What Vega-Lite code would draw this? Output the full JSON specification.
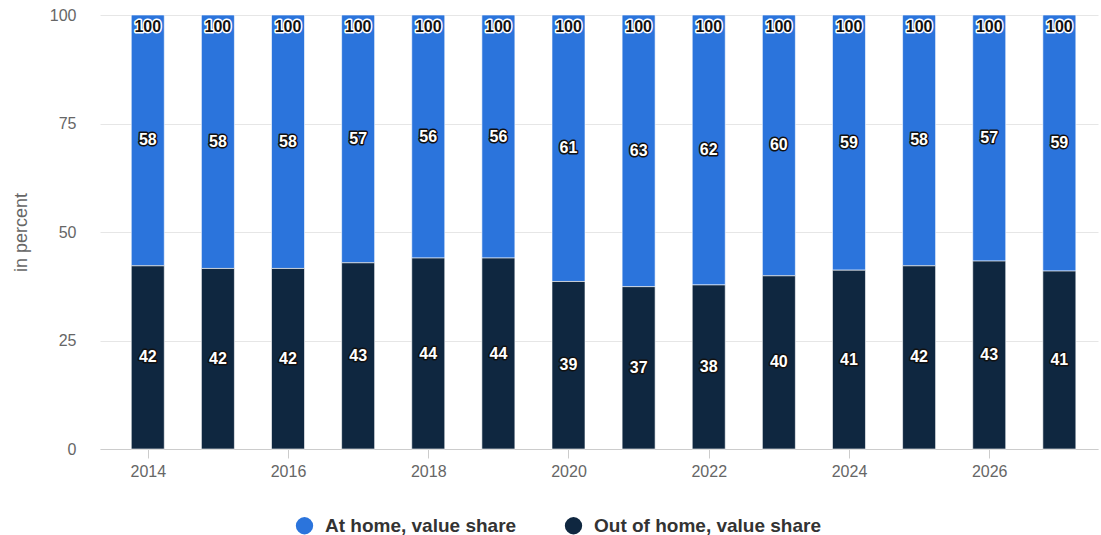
{
  "$schema": "https://vega.github.io/schema/vega-lite/v6.json",
  "width": 998,
  "height": 434,
  "autosize": {"type": "none"},
  "padding": {"left": 100, "top": 15, "right": 3, "bottom": 86},
  "background": "#ffffff",
  "config": {
    "view": {"stroke": null},
    "font": "Liberation Sans"
  },
  "data": {
    "values": [
      {"year": 2014, "category": "At home, value share", "value": 57.8},
      {"year": 2014, "category": "Out of home, value share", "value": 42.2},
      {"year": 2015, "category": "At home, value share", "value": 58.4},
      {"year": 2015, "category": "Out of home, value share", "value": 41.6},
      {"year": 2016, "category": "At home, value share", "value": 58.4},
      {"year": 2016, "category": "Out of home, value share", "value": 41.6},
      {"year": 2017, "category": "At home, value share", "value": 57.1},
      {"year": 2017, "category": "Out of home, value share", "value": 42.9},
      {"year": 2018, "category": "At home, value share", "value": 56.0},
      {"year": 2018, "category": "Out of home, value share", "value": 44.0},
      {"year": 2019, "category": "At home, value share", "value": 56.0},
      {"year": 2019, "category": "Out of home, value share", "value": 44.0},
      {"year": 2020, "category": "At home, value share", "value": 61.4},
      {"year": 2020, "category": "Out of home, value share", "value": 38.6},
      {"year": 2021, "category": "At home, value share", "value": 62.6},
      {"year": 2021, "category": "Out of home, value share", "value": 37.4},
      {"year": 2022, "category": "At home, value share", "value": 62.2},
      {"year": 2022, "category": "Out of home, value share", "value": 37.8},
      {"year": 2023, "category": "At home, value share", "value": 60.1},
      {"year": 2023, "category": "Out of home, value share", "value": 39.9},
      {"year": 2024, "category": "At home, value share", "value": 58.8},
      {"year": 2024, "category": "Out of home, value share", "value": 41.2},
      {"year": 2025, "category": "At home, value share", "value": 57.8},
      {"year": 2025, "category": "Out of home, value share", "value": 42.2},
      {"year": 2026, "category": "At home, value share", "value": 56.7},
      {"year": 2026, "category": "Out of home, value share", "value": 43.3},
      {"year": 2027, "category": "At home, value share", "value": 59.0},
      {"year": 2027, "category": "Out of home, value share", "value": 41.0}
    ]
  },
  "encoding": {
    "x": {
      "field": "year",
      "type": "quantitative",
      "scale": {"domain": [2013.39, 2027.48], "nice": false, "zero": false},
      "axis": {
        "values": [2014, 2016, 2018, 2020, 2022, 2024, 2026],
        "format": "d",
        "title": null,
        "grid": false,
        "domainColor": "#cccccc",
        "tickColor": "#cccccc",
        "tickSize": 9,
        "labelPadding": 5,
        "labelFontSize": 16,
        "labelColor": "#666666"
      }
    }
  },
  "layer": [
    {
      "mark": {"type": "bar", "size": 33, "stroke": "#ffffff", "strokeWidth": 1, "strokeOpacity": 0.6},
      "encoding": {
        "y": {
          "field": "value",
          "type": "quantitative",
          "stack": "zero",
          "scale": {"domain": [0, 100], "nice": false},
          "axis": {
            "values": [0, 25, 50, 75, 100],
            "title": "in percent",
            "titleFontSize": 18,
            "titleFontWeight": "normal",
            "titleColor": "#666666",
            "titlePadding": 19,
            "labelFontSize": 16,
            "labelColor": "#666666",
            "labelPadding": 24,
            "domain": false,
            "ticks": false,
            "gridColor": "#e6e6e6"
          }
        },
        "color": {
          "field": "category",
          "type": "nominal",
          "scale": {
            "domain": ["At home, value share", "Out of home, value share"],
            "range": ["#2b74dc", "#0f2740"]
          },
          "legend": {
            "title": null,
            "orient": "none",
            "direction": "horizontal",
            "legendX": 195,
            "legendY": 501,
            "symbolType": "circle",
            "symbolSize": 300,
            "symbolStrokeWidth": 0,
            "labelFontSize": 19,
            "labelFontWeight": "bold",
            "labelColor": "#333333",
            "labelLimit": 400,
            "columnPadding": 47,
            "labelOffset": 11
          }
        },
        "order": {"field": "category", "sort": "descending"}
      }
    },
    {
      "mark": {"type": "text", "fontSize": 16, "fontWeight": "bold", "fill": "#111111", "stroke": "#111111", "strokeWidth": 3, "strokeJoin": "round", "baseline": "middle"},
      "encoding": {
        "y": {"field": "value", "type": "quantitative", "stack": "zero", "bandPosition": 0.5},
        "detail": {"field": "category"},
        "order": {"field": "category", "sort": "descending"},
        "text": {"field": "value", "type": "quantitative", "format": ".0f"}
      }
    },
    {
      "mark": {"type": "text", "fontSize": 16, "fontWeight": "bold", "fill": "#ffffff", "baseline": "middle"},
      "encoding": {
        "y": {"field": "value", "type": "quantitative", "stack": "zero", "bandPosition": 0.5},
        "detail": {"field": "category"},
        "order": {"field": "category", "sort": "descending"},
        "text": {"field": "value", "type": "quantitative", "format": ".0f"}
      }
    },
    {
      "transform": [{"aggregate": [{"op": "sum", "field": "value", "as": "total"}], "groupby": ["year"]}],
      "mark": {"type": "text", "fontSize": 16, "fontWeight": "bold", "fill": "#ffffff", "stroke": "#ffffff", "strokeWidth": 3, "strokeJoin": "round", "baseline": "middle", "dy": 12},
      "encoding": {
        "y": {"field": "total", "type": "quantitative"},
        "text": {"field": "total", "type": "quantitative", "format": ".0f"}
      }
    },
    {
      "transform": [{"aggregate": [{"op": "sum", "field": "value", "as": "total"}], "groupby": ["year"]}],
      "mark": {"type": "text", "fontSize": 16, "fontWeight": "bold", "fill": "#111111", "baseline": "middle", "dy": 12},
      "encoding": {
        "y": {"field": "total", "type": "quantitative"},
        "text": {"field": "total", "type": "quantitative", "format": ".0f"}
      }
    }
  ]
}
